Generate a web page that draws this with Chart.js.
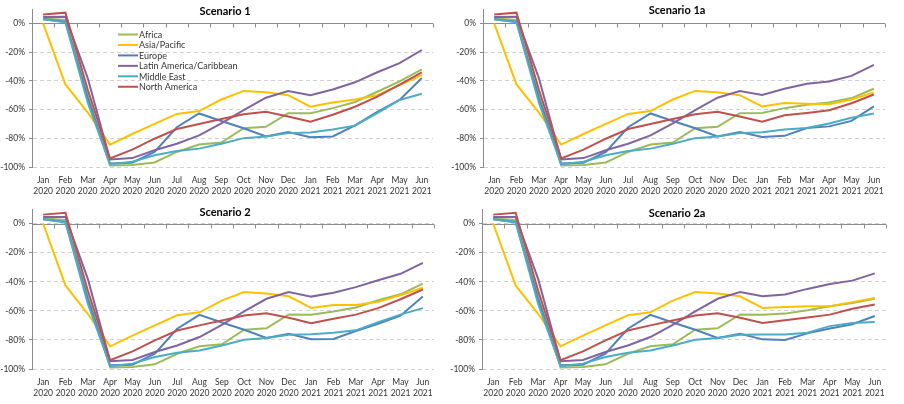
<!DOCTYPE html>
<html>
<head>
<meta charset="utf-8">
<script src="https://cdn.jsdelivr.net/npm/chart.js@4.4.1/dist/chart.umd.min.js"></script>
<style>
  body { margin: 0; background: #fff; }
  #grid { display: grid; grid-template-columns: 450px 454px; grid-template-rows: 200px 204px; width: 904px; height: 404px; }
  canvas { display: block; }
</style>
</head>
<body>
<div id="grid">
  <div><canvas id="c1" width="450" height="200"></canvas></div>
  <div><canvas id="c2" width="454" height="200"></canvas></div>
  <div><canvas id="c3" width="450" height="204"></canvas></div>
  <div><canvas id="c4" width="454" height="204"></canvas></div>
</div>
<script>
// categories
const months = ["Jan","Feb","Mar","Apr","May","Jun","Jul","Aug","Sep","Oct","Nov","Dec","Jan","Feb","Mar","Apr","May","Jun"];
const years = ["2020","2020","2020","2020","2020","2020","2020","2020","2020","2020","2020","2020","2021","2021","2021","2021","2021","2021"];
const regions = ["Africa","Asia/Pacific","Europe","Latin America/Caribbean","Middle East","North America"];
const regionColors = ["#9BBB59","#FFC000","#4F81BD","#8064A2","#4BACC6","#C0504D"];
const yTicks = [0, -20, -40, -60, -80, -100];

// Scenario 1 (% change)
const s1Africa = [3.5, 2.5, -50, -99, -98.6, -96.8, -89.5, -84.4, -83, -73, -72, -62.5, -62.5, -59, -54.7, -47.6, -40.3, -32];
const s1Asia   = [0, -42.5, -62, -84.4, -77, -70, -63, -61, -53, -47, -48, -50, -58, -55, -53, -50, -43, -36];
const s1Europe = [3, 1.2, -52, -97.5, -97, -89.5, -72.3, -62.7, -68, -73, -78.7, -75.7, -79.2, -78.7, -71, -61.6, -53.3, -38];
const s1Latin  = [4.5, 4.6, -38, -94.7, -93.8, -88.3, -83.8, -78, -69.6, -60.4, -51.7, -47.1, -50, -46, -41, -34, -27.7, -18.5];
const s1MidEast = [3, 0.8, -55, -98, -96.3, -91.8, -88.8, -87.2, -83.8, -79.9, -78.7, -76.4, -76, -73.9, -71.2, -62.5, -53.3, -49];
const s1NorthAm = [6.2, 7.5, -46, -94, -87.9, -80.3, -73.5, -70, -66.6, -63.2, -61.6, -64.8, -68.4, -63.6, -58, -51, -42.6, -34];

// Scenario 1a
const s1aAfrica = [3.5, 2.5, -50, -99, -98.6, -96.8, -89.5, -84.4, -83, -73, -72, -62.5, -62.3, -59, -56.7, -55, -52, -45.5];
const s1aAsia   = [0, -42.5, -62, -84.4, -77, -70, -63, -61, -53, -47, -48, -50, -57.8, -55.4, -56, -56.3, -53, -48];
const s1aEurope = [3, 1.2, -52, -97.5, -97, -89.5, -72.3, -62.7, -68, -73, -78.7, -75.7, -79.1, -78.3, -72.9, -71.7, -67.9, -57.8];
const s1aLatin  = [4.5, 4.6, -38, -94.7, -93.8, -88.3, -83.8, -78, -69.6, -60.4, -51.7, -47.1, -49.8, -45.5, -42, -40.4, -36.5, -28.9];
const s1aMidEast = [3, 0.8, -55, -98, -96.3, -91.8, -88.8, -87.2, -83.8, -79.9, -78.7, -76.4, -75.8, -73.8, -72.9, -69.7, -65.7, -62.8];
const s1aNorthAm = [6.2, 7.5, -46, -94, -87.9, -80.3, -73.5, -70, -66.6, -63.2, -61.6, -64.8, -68.4, -64, -62.3, -60.5, -55.6, -49.5];

// Scenario 2
const s2Africa = [3.5, 2.5, -50, -99, -98.6, -96.8, -89.5, -84.4, -83, -73, -72, -62.5, -62.6, -60.4, -57.7, -52.7, -48.6, -41.2];
const s2Asia   = [0, -42.5, -62, -84.4, -77, -70, -63, -61, -53, -47, -48, -50, -58, -56, -55.9, -53.8, -49.3, -44];
const s2Europe = [3, 1.2, -52, -97.5, -97, -89.5, -72.3, -62.7, -68, -73, -78.7, -75.7, -79.5, -79.3, -73.9, -68.9, -63.3, -50.2];
const s2Latin  = [4.5, 4.6, -38, -94.7, -93.8, -88.3, -83.8, -78, -69.6, -60.4, -51.7, -47.1, -50.2, -47.5, -43.7, -39, -34.5, -27];
const s2MidEast = [3, 0.8, -55, -98, -96.3, -91.8, -88.8, -87.2, -83.8, -79.9, -78.7, -76.4, -76.1, -75, -73.4, -67.8, -62.6, -58.1];
const s2NorthAm = [6.2, 7.5, -46, -94, -87.9, -80.3, -73.5, -70, -66.6, -63.2, -61.6, -64.8, -68.5, -65.5, -62.6, -58.1, -52, -45.3];

// Scenario 2a
const s2aAfrica = [3.5, 2.5, -50, -99, -98.6, -96.8, -89.5, -84.4, -83, -73, -72, -62.5, -62.6, -61.9, -59.6, -56.9, -54.6, -51.7];
const s2aAsia   = [0, -42.5, -62, -84.4, -77, -70, -63, -61, -53, -47, -48, -50, -58, -57.4, -56.9, -56.9, -54, -51.2];
const s2aEurope = [3, 1.2, -52, -97.5, -97, -89.5, -72.3, -62.7, -68, -73, -78.7, -75.7, -79.6, -80, -75.5, -72.1, -69.2, -63.5];
const s2aLatin  = [4.5, 4.6, -38, -94.7, -93.8, -88.3, -83.8, -78, -69.6, -60.4, -51.7, -47.1, -49.9, -48.8, -44.9, -41.5, -39.2, -34.2];
const s2aMidEast = [3, 0.8, -55, -98, -96.3, -91.8, -88.8, -87.2, -83.8, -79.9, -78.7, -76.4, -76.2, -76.2, -75, -70.5, -68.3, -67.6];
const s2aNorthAm = [6.2, 7.5, -46, -94, -87.9, -80.3, -73.5, -70, -66.6, -63.2, -61.6, -64.8, -68.3, -66.4, -64.6, -62.6, -58.5, -55.6];

const FONT = "Lato";

// axis line at 0 with tick marks, title, and legend inside the plot
const excelBits = {
  id: "excelBits",
  beforeDatasetsDraw(chart) {
    const { ctx, chartArea } = chart;
    const x = chart.scales.x, y = chart.scales.y;
    const y0 = Math.round(y.getPixelForValue(0)) + 0.5;
    ctx.save();
    ctx.strokeStyle = "#8c8c8c";
    ctx.lineWidth = 1;
    ctx.beginPath();
    ctx.moveTo(chartArea.left, y0);
    ctx.lineTo(chartArea.right, y0);
    for (let i = 0; i <= months.length; i++) {
      const px = Math.round(x.getPixelForValue(i - 0.5)) + 0.5;
      ctx.moveTo(px, y0);
      ctx.lineTo(px, y0 + 4);
    }
    ctx.stroke();
    ctx.restore();
  },
  afterDraw(chart, args, opts) {
    const { ctx } = chart;
    ctx.save();
    ctx.fillStyle = "#000";
    ctx.font = "bold 11px " + FONT;
    ctx.textAlign = "center";
    ctx.textBaseline = "middle";
    ctx.fillText(opts.title, chart.width / 2, opts.titleY);
    if (opts.legend) {
      ctx.font = "9px " + FONT;
      ctx.textAlign = "left";
      chart.data.datasets.forEach((ds, i) => {
        const ly = 34.5 + i * 10.45;
        ctx.strokeStyle = ds.borderColor;
        ctx.lineWidth = 2;
        ctx.beginPath();
        ctx.moveTo(118, ly);
        ctx.lineTo(138, ly);
        ctx.stroke();
        ctx.fillStyle = "#333";
        ctx.fillText(ds.label, 139, ly + 0.5);
      });
    }
    ctx.restore();
  }
};

function makeChart(id, title, series, pad, titleY, legend) {
  const datasets = regions.map((name, i) => ({
    label: name,
    data: series[i],
    borderColor: regionColors[i],
    backgroundColor: regionColors[i],
    borderWidth: 2,
    pointRadius: 0,
    tension: 0,
    order: regions.length - i
  }));
  return new Chart(document.getElementById(id), {
    type: "line",
    data: { labels: months.map((m, i) => [m, years[i]]), datasets: datasets },
    plugins: [excelBits],
    options: {
      responsive: false,
      animation: false,
      events: [],
      layout: { padding: pad },
      plugins: {
        legend: { display: false },
        tooltip: { enabled: false },
        excelBits: { title: title, titleY: titleY, legend: legend }
      },
      scales: {
        x: {
          offset: true,
          grid: { display: false },
          border: { display: false },
          ticks: {
            color: "#333",
            font: { family: FONT, size: 8.5, lineHeight: 1.3 },
            padding: 0,
            maxRotation: 0,
            autoSkip: false
          },
          afterFit(scale) { scale.height = 33; }
        },
        y: {
          min: -100,
          max: 10,
          afterBuildTicks(scale) { scale.ticks = yTicks.map(v => ({ value: v })); },
          grid: { color: "#d0d0d0", lineWidth: 1, drawTicks: true, tickLength: 3, tickColor: "#8c8c8c" },
          border: { display: true, color: "#8c8c8c", dash: [4, 3] },
          ticks: {
            color: "#333",
            font: { family: FONT, size: 8.5 },
            padding: 4,
            callback: v => v + "%"
          },
          afterFit(scale) { scale.width = 32; }
        }
      }
    }
  });
}

makeChart("c1", "Scenario 1",
  [s1Africa, s1Asia, s1Europe, s1Latin, s1MidEast, s1NorthAm],
  { top: 7, right: 17, bottom: 0, left: 0 }, 11, true);
makeChart("c2", "Scenario 1a",
  [s1aAfrica, s1aAsia, s1aEurope, s1aLatin, s1aMidEast, s1aNorthAm],
  { top: 5, right: 19, bottom: 0, left: 1 }, 10.5, false);
makeChart("c3", "Scenario 2",
  [s2Africa, s2Asia, s2Europe, s2Latin, s2MidEast, s2NorthAm],
  { top: 7, right: 16, bottom: 2, left: 0 }, 12.5, false);
makeChart("c4", "Scenario 2a",
  [s2aAfrica, s2aAsia, s2aEurope, s2aLatin, s2aMidEast, s2aNorthAm],
  { top: 8, right: 18, bottom: 2, left: 0 }, 13, false);
</script>
</body>
</html>
